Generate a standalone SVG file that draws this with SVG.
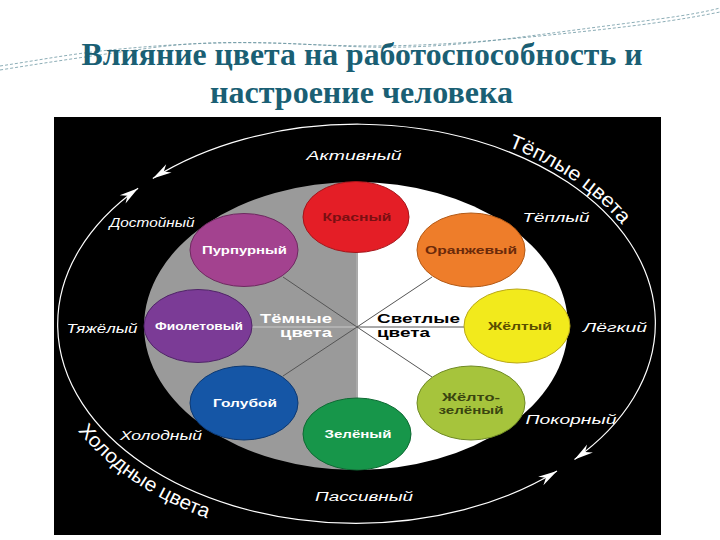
<svg xmlns="http://www.w3.org/2000/svg" width="720" height="540" viewBox="0 0 720 540">
<style>
.title{font-family:"Liberation Serif","Times New Roman",serif;font-weight:bold;fill:#1a5f74;text-anchor:middle}
.lbl{font-family:"Liberation Sans",Arial,sans-serif;font-weight:bold;font-size:11.5px;text-anchor:middle}
.out{font-family:"Liberation Sans",Arial,sans-serif;font-style:italic;font-size:12.5px;fill:#fff;text-anchor:middle}
.curve{font-family:"Liberation Sans",Arial,sans-serif;font-size:20px;fill:#fff}
.mid{font-family:"Liberation Sans",Arial,sans-serif;font-weight:bold;font-size:13px}
.spoke{stroke:#555;stroke-width:1;fill:none}
.arc{stroke:#fff;stroke-width:1.2;fill:none;marker-start:url(#dart);marker-end:url(#dart)}
.deco{fill:none;stroke:#6f98a3;stroke-width:0.8;stroke-dasharray:3 2}
</style>
<defs>
<marker id="dart" markerUnits="userSpaceOnUse" markerWidth="22" markerHeight="12" viewBox="-20 -6 22 12" refX="0" refY="0" orient="auto-start-reverse">
<path d="M0,0 L-19,-5 L-13,0 L-19,5 Z" fill="#fff"/>
</marker>
<path id="warmText" d="M508,146.5 A304,205 0 0,1 641.7,253.9"/>
<path id="coldText" d="M77.9,430.7 A318,220 0 0,0 328.3,543.2"/>
</defs>
<rect width="720" height="540" fill="#fff"/>
<g id="decoration">
<path class="deco" d="M0,66 C40,60 70,54 110,50 S220,40 300,44 S440,46 540,36 S680,20 720,12"/>
<path class="deco" d="M0,70 C50,62 90,56 150,48 S260,42 340,46 S470,44 560,32 S690,16 720,8"/>
</g>
<g id="title">
<text class="title" x="362" y="65" font-size="31" textLength="561" lengthAdjust="spacingAndGlyphs">Влияние цвета на работоспособность и</text>
<text class="title" x="361.5" y="103" font-size="31" textLength="303" lengthAdjust="spacingAndGlyphs">настроение человека</text>
</g>
<rect x="54" y="117" width="607" height="418" fill="#000"/>
<g id="inner-ellipse">
<path d="M356,182 A212,144 0 0,0 356,470 Z" fill="#9a9a9a"/>
<path d="M356,182 A212,144 0 0,1 356,470 Z" fill="#fff"/>
</g>
<g id="connectors">
<path class="arc" d="M152.8,178.5 A298,199 0 0,1 574.5,459.5"/>
<path class="arc" d="M138.1,188.3 A298,199 0 0,0 557,471"/>
<line class="spoke" x1="357" y1="250" x2="357" y2="400" stroke="#888"/>
<line x1="250" y1="327" x2="357" y2="327" stroke="#c8c8c8" stroke-width="1"/>
<line class="spoke" x1="357" y1="327" x2="465" y2="327"/>
<line class="spoke" x1="357" y1="327" x2="283" y2="277"/>
<line class="spoke" x1="357" y1="327" x2="432" y2="277"/>
<line class="spoke" x1="357" y1="327" x2="283" y2="376"/>
<line class="spoke" x1="357" y1="327" x2="432" y2="377"/>
</g>
<g id="group-labels">
<text class="mid" x="332" y="323" fill="#fff" text-anchor="end" textLength="72" lengthAdjust="spacingAndGlyphs">Тёмные</text>
<text class="mid" x="332" y="337" fill="#fff" text-anchor="end" textLength="52" lengthAdjust="spacingAndGlyphs">цвета</text>
<text class="mid" x="377" y="323" fill="#000" textLength="83" lengthAdjust="spacingAndGlyphs">Светлые</text>
<text class="mid" x="377" y="337" fill="#000" textLength="53" lengthAdjust="spacingAndGlyphs">цвета</text>
</g>
<g id="red">
<ellipse cx="356" cy="217" rx="53" ry="35.5" fill="#e41e26" stroke="#a51419"/>
<text class="lbl" x="357" y="221" fill="#7a0f12" textLength="69" lengthAdjust="spacingAndGlyphs">Красный</text>
</g>
<g id="purple">
<ellipse cx="244" cy="250" rx="54" ry="36.5" fill="#a3428f" stroke="#6e2a60"/>
<text class="lbl" x="244.5" y="254" fill="#fff" textLength="85" lengthAdjust="spacingAndGlyphs">Пурпурный</text>
</g>
<g id="orange">
<ellipse cx="471" cy="250" rx="54" ry="37" fill="#ee7d2a" stroke="#b35a17"/>
<text class="lbl" x="471" y="254" fill="#6b2a0a" textLength="92" lengthAdjust="spacingAndGlyphs">Оранжевый</text>
</g>
<g id="violet">
<ellipse cx="198" cy="326" rx="54" ry="36.5" fill="#7b3b96" stroke="#502468"/>
<text class="lbl" x="199" y="330" fill="#fff" textLength="88" lengthAdjust="spacingAndGlyphs">Фиолетовый</text>
</g>
<g id="yellow">
<ellipse cx="517" cy="326" rx="53" ry="37" fill="#f2ea1c" stroke="#b9a81a"/>
<text class="lbl" x="520" y="330" fill="#5a4f00" textLength="64" lengthAdjust="spacingAndGlyphs">Жёлтый</text>
</g>
<g id="blue">
<ellipse cx="244" cy="403" rx="54" ry="37" fill="#1556a6" stroke="#0e3a73"/>
<text class="lbl" x="245" y="407" fill="#fff" textLength="64" lengthAdjust="spacingAndGlyphs">Голубой</text>
</g>
<g id="green">
<ellipse cx="357" cy="434" rx="54" ry="36" fill="#17964a" stroke="#0e6a33"/>
<text class="lbl" x="358" y="438" fill="#fff" textLength="67" lengthAdjust="spacingAndGlyphs">Зелёный</text>
</g>
<g id="yellow-green">
<ellipse cx="471" cy="403" rx="54" ry="37" fill="#a6c43c" stroke="#6f8a24"/>
<text class="lbl" x="471" y="401" fill="#3a4510" textLength="58" lengthAdjust="spacingAndGlyphs">Жёлто-</text>
<text class="lbl" x="471" y="414" fill="#3a4510" textLength="65" lengthAdjust="spacingAndGlyphs">зелёный</text>
</g>
<g id="qualities">
<text class="out" x="354" y="160" textLength="95" lengthAdjust="spacingAndGlyphs">Активный</text>
<text class="out" x="556" y="222" textLength="67" lengthAdjust="spacingAndGlyphs">Тёплый</text>
<text class="out" x="615" y="332" textLength="64" lengthAdjust="spacingAndGlyphs">Лёгкий</text>
<text class="out" x="571" y="424" textLength="91" lengthAdjust="spacingAndGlyphs">Покорный</text>
<text class="out" x="364" y="501" textLength="98" lengthAdjust="spacingAndGlyphs">Пассивный</text>
<text class="out" x="161" y="440" textLength="82" lengthAdjust="spacingAndGlyphs">Холодный</text>
<text class="out" x="102" y="333" textLength="71" lengthAdjust="spacingAndGlyphs">Тяжёлый</text>
<text class="out" x="152" y="227" textLength="85" lengthAdjust="spacingAndGlyphs">Достойный</text>
</g>
<g id="temperature">
<text class="curve"><textPath href="#warmText" textLength="140" lengthAdjust="spacingAndGlyphs">Тёплые цвета</textPath></text>
<text class="curve"><textPath href="#coldText" textLength="158" lengthAdjust="spacingAndGlyphs">Холодные цвета</textPath></text>
</g>
</svg>
